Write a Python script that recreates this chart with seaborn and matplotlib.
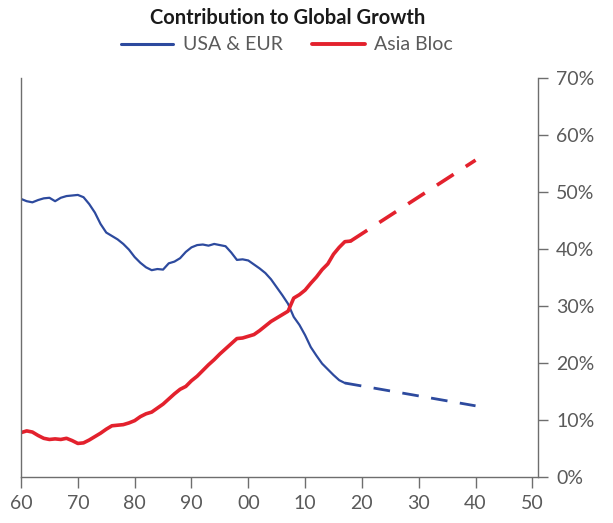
import numpy as np
import pandas as pd
import matplotlib
matplotlib.use('Agg')
import matplotlib.pyplot as plt
from matplotlib.lines import Line2D
import seaborn as sns

# historical shares of global growth (%)
years_usa = list(range(1960, 2018))
usa_eur = [48.7, 48.3, 48.1, 48.5, 48.8, 48.9, 48.3, 48.9, 49.2, 49.3,
           49.4, 49.0, 47.8, 46.3, 44.3, 42.8, 42.2, 41.6, 40.8, 39.8,
           38.5, 37.5, 36.7, 36.2, 36.4, 36.3, 37.4, 37.7, 38.3, 39.4,
           40.2, 40.6, 40.7, 40.5, 40.8, 40.6, 40.4, 39.3, 38.0, 38.1,
           37.9, 37.2, 36.5, 35.7, 34.6, 33.2, 31.8, 30.3, 28.0, 26.6,
           24.8, 22.7, 21.2, 19.8, 18.8, 17.8, 16.9, 16.4]

years_asia = list(range(1960, 2019))
asia_bloc = [7.7, 8.0, 7.8, 7.2, 6.7, 6.5, 6.6, 6.5, 6.7, 6.3,
             5.8, 5.9, 6.4, 7.0, 7.6, 8.3, 8.9, 9.0, 9.1, 9.4,
             9.8, 10.5, 11.0, 11.3, 12.0, 12.7, 13.6, 14.5, 15.3, 15.8,
             16.8, 17.6, 18.6, 19.6, 20.5, 21.5, 22.4, 23.3, 24.2, 24.3,
             24.6, 24.9, 25.6, 26.4, 27.2, 27.8, 28.4, 29.0, 31.3, 31.9,
             32.7, 33.9, 35.0, 36.3, 37.3, 39.0, 40.2, 41.2, 41.3]

# projections (dashed)
proj_years_usa = [2017, 2040]
proj_usa_eur = [16.4, 12.4]
proj_years_asia = [2018, 2040]
proj_asia_bloc = [41.3, 55.5]

x_ticks = list(range(1960, 2051, 10))
x_labels = ['60', '70', '80', '90', '00', '10', '20', '30', '40', '50']
y_ticks = list(range(0, 71, 10))
y_labels = [f'{v}%' for v in y_ticks]

blue = '#2d4a9e'
red = '#e3212d'
grey = '#5a5a5a'

sns.set_style('white')
plt.rcParams['font.family'] = ['Lato', 'DejaVu Sans']

fig = plt.figure(figsize=(6.13, 5.23), dpi=100)
ax = fig.add_axes([0.0343, 0.0889, 0.8434, 0.7629])

hist_usa = pd.DataFrame({'year': years_usa, 'share': usa_eur})
hist_asia = pd.DataFrame({'year': years_asia, 'share': asia_bloc})
sns.lineplot(data=hist_usa, x='year', y='share', color=blue, linewidth=1.6, ax=ax)
sns.lineplot(data=hist_asia, x='year', y='share', color=red, linewidth=2.6, ax=ax)
sns.lineplot(x=proj_years_usa, y=proj_usa_eur, color=blue, linewidth=2.0,
             dashes=False, ax=ax).lines[-1].set_dashes([6, 4.5])
sns.lineplot(x=proj_years_asia, y=proj_asia_bloc, color=red, linewidth=2.6,
             dashes=False, ax=ax).lines[-1].set_dashes([5.5, 4])

ax.set_xlim(1960, 2051)
ax.set_ylim(0, 70)
ax.set_xticks(x_ticks)
ax.set_xticklabels(x_labels)
ax.set_yticks(y_ticks)
ax.set_yticklabels(y_labels)
ax.yaxis.tick_right()
ax.set_xlabel('')
ax.set_ylabel('')

for side in ['left', 'right', 'bottom']:
    ax.spines[side].set_visible(True)
    ax.spines[side].set_color('#6e6e6e')
    ax.spines[side].set_linewidth(1.0)
ax.spines['top'].set_visible(False)

ax.tick_params(axis='x', direction='out', length=8, width=1, color='#6e6e6e',
               labelsize=14, labelcolor=grey, pad=5, bottom=True)
ax.tick_params(axis='y', direction='out', length=7, width=1, color='#6e6e6e',
               labelsize=14, labelcolor=grey, pad=6, right=True, left=False)

fig.text(0.47, 0.966, 'Contribution to Global Growth', ha='center', va='center',
         fontsize=14.5, fontweight='bold', color='#1a1a1a')

handles = [Line2D([0], [0], color=blue, linewidth=2.2),
           Line2D([0], [0], color=red, linewidth=2.8)]
leg = fig.legend(handles, ['USA & EUR', 'Asia Bloc'], loc='center',
                 bbox_to_anchor=(0.468, 0.914), ncol=2, frameon=False,
                 handlelength=2.7, handletextpad=0.5, columnspacing=1.5,
                 prop={'size': 14})
for t in leg.get_texts():
    t.set_color(grey)

fig.savefig('out.png', dpi=100)
